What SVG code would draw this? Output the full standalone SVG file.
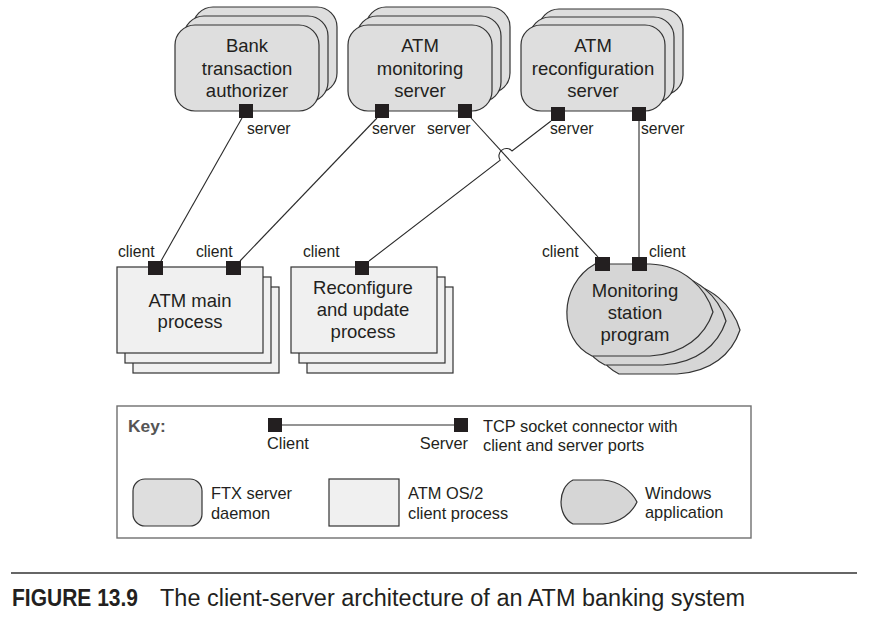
<svg xmlns="http://www.w3.org/2000/svg" width="876" height="627" viewBox="0 0 876 627">
<style>
  .srv { fill: #dedede; stroke: #333; stroke-width: 1.2; }
  .proc { fill: #f0f0f0; stroke: #333; stroke-width: 1.2; }
  .win { fill: #d6d6d6; stroke: #333; stroke-width: 1.2; }
  .port { fill: #231f20; }
  .conn { fill: none; stroke: #2a2a2a; stroke-width: 1.1; }
  .t { font-family: "Liberation Sans", Arial, Helvetica, sans-serif; fill: #231f20; }
  .big { font-size: 18.5px; text-anchor: middle; }
  .lbl { font-size: 15.7px; }
  .key { font-size: 16.4px; }
</style>
<defs>
  <rect id="srvbox" width="144" height="86" rx="20" ry="20"/>
  <rect id="procbox" width="146" height="86"/>
  <path id="winshape" d="M 595,264 L 650,264 C 683,265 706,288 713,312 C 705,336 684,354 650,356 L 592,356 C 558,340 558,285 595,264 Z"/>
</defs>
<rect x="0" y="0" width="876" height="627" fill="#ffffff"/>

<g id="connectors">
  <line class="conn" x1="242" y1="118" x2="161" y2="261"/>
  <line class="conn" x1="377" y1="118" x2="240" y2="261"/>
  <line class="conn" x1="471" y1="118" x2="598" y2="257"/>
  <path class="conn" d="M 551,121 L 512,151 A 7.5 7.5 0 0 0 500.2,160.2 L 369,261"/>
  <line class="conn" x1="639" y1="121" x2="639" y2="257"/>
</g>

<g id="bank-transaction-authorizer">
  <use href="#srvbox" class="srv" x="193" y="7"/>
  <use href="#srvbox" class="srv" x="184" y="16"/>
  <use href="#srvbox" class="srv" x="175" y="25"/>
  <text class="t big" x="247" y="52">Bank</text>
  <text class="t big" x="247" y="74.5">transaction</text>
  <text class="t big" x="247" y="97">authorizer</text>
  <rect class="port" x="239" y="104" width="14" height="14"/>
  <text class="t lbl" x="247" y="134">server</text>
</g>

<g id="atm-monitoring-server">
  <use href="#srvbox" class="srv" x="366" y="7"/>
  <use href="#srvbox" class="srv" x="357" y="16"/>
  <use href="#srvbox" class="srv" x="348" y="25"/>
  <text class="t big" x="420" y="52">ATM</text>
  <text class="t big" x="420" y="74.5">monitoring</text>
  <text class="t big" x="420" y="97">server</text>
  <rect class="port" x="375" y="104" width="14" height="14"/>
  <rect class="port" x="458" y="104" width="14" height="14"/>
  <text class="t lbl" x="372" y="134">server</text>
  <text class="t lbl" x="427" y="134">server</text>
</g>

<g id="atm-reconfiguration-server">
  <use href="#srvbox" class="srv" x="539" y="9"/>
  <use href="#srvbox" class="srv" x="530" y="17"/>
  <use href="#srvbox" class="srv" x="521" y="25"/>
  <text class="t big" x="593" y="52">ATM</text>
  <text class="t big" x="593" y="74.5">reconfiguration</text>
  <text class="t big" x="593" y="97">server</text>
  <rect class="port" x="551" y="107" width="14" height="14"/>
  <rect class="port" x="632" y="107" width="14" height="14"/>
  <text class="t lbl" x="550" y="134">server</text>
  <text class="t lbl" x="641" y="134">server</text>
</g>

<g id="atm-main-process">
  <use href="#procbox" class="proc" x="133" y="287"/>
  <use href="#procbox" class="proc" x="125" y="277"/>
  <use href="#procbox" class="proc" x="117" y="267"/>
  <text class="t big" x="190" y="307">ATM main</text>
  <text class="t big" x="190" y="328">process</text>
  <rect class="port" x="148" y="261" width="15" height="14"/>
  <rect class="port" x="226" y="261" width="15" height="14"/>
  <text class="t lbl" x="118" y="257">client</text>
  <text class="t lbl" x="196" y="257">client</text>
</g>

<g id="reconfigure-and-update-process">
  <use href="#procbox" class="proc" x="307" y="287"/>
  <use href="#procbox" class="proc" x="299" y="277"/>
  <use href="#procbox" class="proc" x="291" y="267"/>
  <text class="t big" x="363" y="294">Reconfigure</text>
  <text class="t big" x="363" y="316">and update</text>
  <text class="t big" x="363" y="338">process</text>
  <rect class="port" x="355" y="261" width="14" height="14"/>
  <text class="t lbl" x="303" y="257">client</text>
</g>

<g id="monitoring-station-program">
  <use href="#winshape" class="win" transform="translate(27,18)"/>
  <use href="#winshape" class="win" transform="translate(13,9)"/>
  <use href="#winshape" class="win"/>
  <text class="t big" x="635" y="297">Monitoring</text>
  <text class="t big" x="635" y="319">station</text>
  <text class="t big" x="635" y="341">program</text>
  <rect class="port" x="595" y="257" width="15" height="14"/>
  <rect class="port" x="632" y="257" width="15" height="14"/>
  <text class="t lbl" x="542" y="257">client</text>
  <text class="t lbl" x="649" y="257">client</text>
</g>

<g id="key">
  <rect x="117" y="406" width="634" height="132" fill="none" stroke="#6f6f6f" stroke-width="1.4"/>
  <text class="t" x="128" y="432" font-size="17.4px" font-weight="bold" fill="#555555" style="fill:#555555">Key:</text>
  <line class="conn" x1="282" y1="425" x2="454" y2="425"/>
  <rect class="port" x="268" y="418" width="14" height="14"/>
  <rect class="port" x="454" y="418" width="14" height="14"/>
  <text class="t key" x="267" y="449">Client</text>
  <text class="t key" x="468" y="449" text-anchor="end">Server</text>
  <text class="t key" x="483" y="432">TCP socket connector with</text>
  <text class="t key" x="483" y="451">client and server ports</text>
  <rect class="srv" x="133" y="479" width="69" height="47" rx="12" ry="12"/>
  <text class="t key" x="211" y="499">FTX server</text>
  <text class="t key" x="211" y="519">daemon</text>
  <rect class="proc" x="329" y="479" width="70" height="47"/>
  <text class="t key" x="408" y="499">ATM OS/2</text>
  <text class="t key" x="408" y="519">client process</text>
  <path class="win" d="M 573,480 L 603,480 C 620,481 632,492 637,502 C 632,513 620,523 603,524 L 573,524 C 557,516 557,488 573,480 Z"/>
  <text class="t key" x="645" y="499">Windows</text>
  <text class="t key" x="645" y="518">application</text>
</g>

<g id="caption">
  <line x1="11" y1="573" x2="857" y2="573" stroke="#333" stroke-width="1.3"/>
  <text class="t" x="12" y="606" font-size="23px" font-weight="bold" textLength="126" lengthAdjust="spacingAndGlyphs">FIGURE 13.9</text>
  <text class="t" x="160" y="606" font-size="23px" textLength="585" lengthAdjust="spacingAndGlyphs">The client-server architecture of an ATM banking system</text>
</g>
</svg>
